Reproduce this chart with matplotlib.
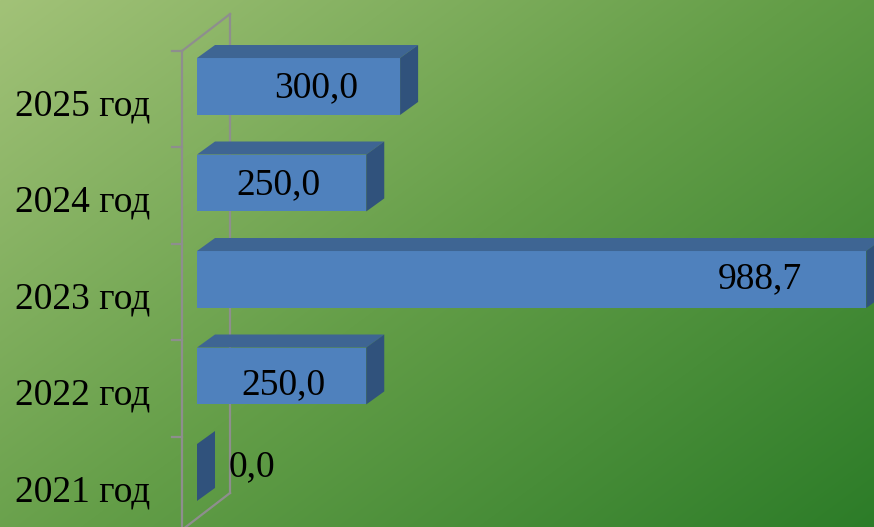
import numpy as np
import matplotlib
matplotlib.use("Agg")
import matplotlib.pyplot as plt
from matplotlib.patches import Polygon

# === DATA ===
categories = ["2021 год", "2022 год", "2023 год", "2024 год", "2025 год"]
values = [0.0, 250.0, 988.7, 250.0, 300.0]
value_labels = ["0,0", "250,0", "988,7", "250,0", "300,0"]

# === STYLE ===
FRONT = "#4F81BD"
TOP = "#3E6593"
SIDE = "#30527C"
WALL = "#8E8E8E"
FONT = "Liberation Serif"
FS = 27

# 3D depth of bars (data units)
DX, DY = 26.6, 0.135
BAR_H = 0.59

fig = plt.figure(figsize=(8.74, 5.27), dpi=100)

# === BACKGROUND GRADIENT ===
bg = fig.add_axes([0, 0, 1, 1])
h, w = 527, 874
yy, xx = np.mgrid[0:h, 0:w]
t = (xx / w * 0.55 + yy / h * 0.45)
stops = np.array([[0.0, 162, 194, 120],
                  [0.5, 100, 158, 72],
                  [1.0, 44, 124, 40]])
img = np.zeros((h, w, 3))
for c in range(3):
    img[..., c] = np.interp(t, stops[:, 0], stops[:, c + 1]) / 255
bg.imshow(img, aspect="auto", extent=[0, 1, 0, 1])
bg.axis("off")

# === MAIN AXES ===
ax = fig.add_axes([197 / 874, 6.25 / 527, 677 / 874, 482.5 / 527])
ax.set_xlim(0, 1000)
ax.set_ylim(-0.5, 4.5)
ax.axis("off")
ax.patch.set_visible(False)

# back wall (gray frame)
fx, bx = -22.2, 48.8
ftop, btop = 4.368, 4.751
bbot = -0.212
fbot = bbot - (btop - ftop)
kw = dict(color=WALL, lw=1.6, clip_on=False, zorder=1)
ax.plot([fx, fx], [ftop, fbot], **kw)
ax.plot([bx, bx], [btop, bbot], **kw)
ax.plot([fx, bx], [ftop, btop], **kw)
ax.plot([fx, bx], [fbot, bbot], **kw)
for k in range(5):
    ax.plot([fx - 14.8, fx], [ftop - k, ftop - k], **kw)

# bars
pos = np.arange(len(values))
ax.barh(pos, values, height=BAR_H, color=FRONT, zorder=2, linewidth=0)
for i, v in enumerate(values):
    y0, y1 = i - BAR_H / 2, i + BAR_H / 2
    top = Polygon([(0, y1), (v, y1), (v + DX, y1 + DY), (DX, y1 + DY)],
                  closed=True, facecolor=TOP, edgecolor="none", zorder=2)
    side = Polygon([(v, y0), (v + DX, y0 + DY), (v + DX, y1 + DY), (v, y1)],
                   closed=True, facecolor=SIDE, edgecolor="none", zorder=2)
    ax.add_patch(top)
    ax.add_patch(side)
    for p in (top, side):
        p.set_clip_on(False)

# category labels
for i, c in enumerate(categories):
    ax.text(-69.5, i - 0.2, c, ha="right", va="center",
            fontsize=FS, family=FONT, color="black", clip_on=False)

# value labels
label_x = [81, 127, 832, 120, 176]
label_dy = [0.06, -0.09, 0.01, -0.02, -0.02]
for i, s in enumerate(value_labels):
    ax.text(label_x[i], i + label_dy[i], s, ha="center", va="center",
            fontsize=FS, family=FONT, color="black", zorder=3)

fig.savefig("out.png", dpi=100)
